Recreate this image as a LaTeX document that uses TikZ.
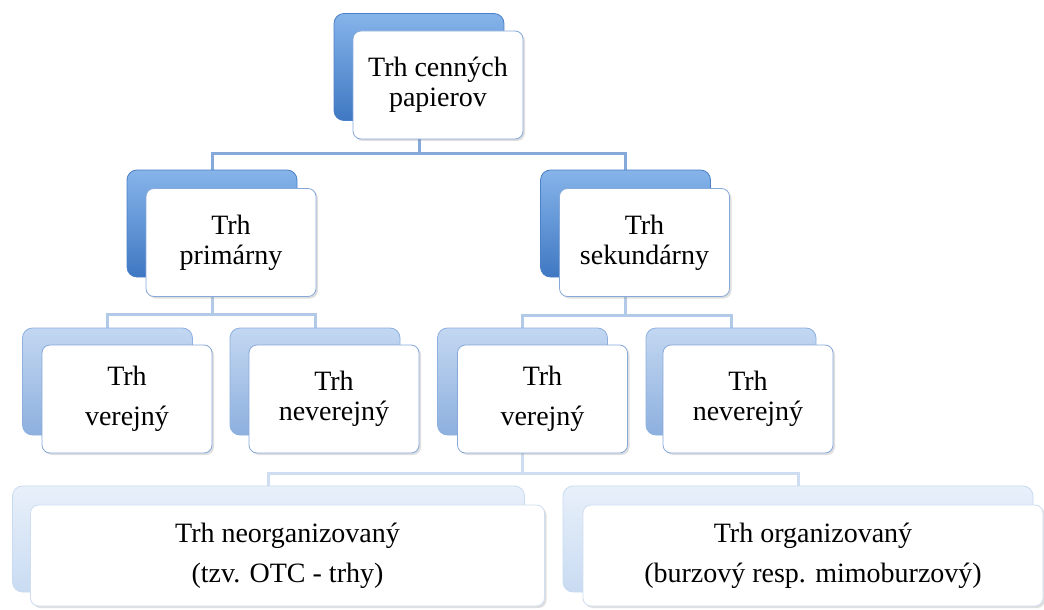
\documentclass[tikz,border=0pt]{standalone}
\usepackage{fontspec}
\setmainfont{Liberation Serif}
\usetikzlibrary{shadows, backgrounds}
\definecolor{mktdark}{HTML}{3F78C2}
\definecolor{mkttop}{HTML}{86B4EA}
\definecolor{mktedge}{HTML}{4A80C8}
\definecolor{mktmid}{HTML}{8DB0DE}
\definecolor{mktmidtop}{HTML}{C3D7F1}
\definecolor{mktpale}{HTML}{C9DBF2}
\definecolor{mktpaletop}{HTML}{E8F0FA}
\definecolor{mktline}{HTML}{86A9D9}
\definecolor{mktlinelight}{HTML}{B3C9E8}
\definecolor{mktlinepale}{HTML}{CFDDF1}

\begin{document}
\begin{tikzpicture}[
      x=0.5pt, y=-0.5pt,
      back/.style={rounded corners=5pt, draw=mktedge, top color=mkttop, bottom color=mktdark, minimum width=85pt, minimum height=53.5pt, inner sep=0pt},
      backmid/.style={back, draw=mktmid, top color=mktmidtop, bottom color=mktmid},
      backpale/.style={back, draw=mktpale, top color=mktpaletop, bottom color=mktpale, minimum width=256pt, minimum height=53pt},
      front/.style={rounded corners=4pt, draw=mktline, fill=white, drop shadow={opacity=0.25, shadow xshift=1pt, shadow yshift=-1pt}, minimum width=85pt, minimum height=54pt, inner sep=0pt, align=center, font=\fontsize{14}{15}\selectfont},
      frontwide/.style={front, draw=mktlinepale, minimum width=257pt, minimum height=50.5pt, font=\fontsize{14}{20}\selectfont},
      link/.style={line width=1.5pt, draw=mktline},
      linklight/.style={line width=1.5pt, draw=mktlinelight},
      linkpale/.style={line width=1.5pt, draw=mktlinepale}
    ]
      \useasboundingbox (0,0) rectangle (1044,610);

      \node[back] (rootb) at (419,67) {};
      \node[front] (root) at (438,85) {Trh cenných\\papierov};

      \node[back] (primb) at (212,223.5) {};
      \node[front] (prim) at (231,242.5) {Trh\\primárny};
      \node[back] (sekb) at (625.5,223.5) {};
      \node[front] (sek) at (644.5,242.5) {Trh\\sekundárny};

      \node[backmid] (pverb) at (107.5,381.5) {};
      \node[front, font=\fontsize{14}{20}\selectfont] (pver) at (127,399) {Trh\\verejný};
      \node[backmid] (pneb) at (315,381.5) {};
      \node[front] (pne) at (334,399) {Trh\\neverejný};
      \node[backmid] (sverb) at (522.5,381.5) {};
      \node[front, font=\fontsize{14}{20}\selectfont] (sver) at (542.5,399) {Trh\\verejný};
      \node[backmid] (sneb) at (731,381.5) {};
      \node[front] (sne) at (748,399) {Trh\\neverejný};

      \node[backpale] (neorgb) at (268.5,539) {};
      \node[frontwide] (neorg) at (287.5,555.5) {Trh neorganizovaný\\(tzv. OTC - trhy)};
      \node[backpale, minimum width=235pt] (orgb) at (798,539) {};
      \node[frontwide, minimum width=230pt] (org) at (813,555.5) {Trh organizovaný\\(burzový resp. mimoburzový)};

      \begin{scope}[on background layer]
        \draw[link] (rootb.south) -- ++(0,33) -| (primb.north);
        \draw[link] (rootb.south) -- ++(0,33) -| (sekb.north);
        \draw[linklight] (primb.south) -- ++(0,37) -| (pverb.north);
        \draw[linklight] (primb.south) -- ++(0,37) -| (pneb.north);
        \draw[linklight] (sekb.south) -- ++(0,38) -| (sverb.north);
        \draw[linklight] (sekb.south) -- ++(0,38) -| (sneb.north);
        \draw[linkpale] (sverb.south) -- ++(0,38) -| (neorgb.north);
        \draw[linkpale] (sverb.south) -- ++(0,38) -| (orgb.north);
      \end{scope}
    \end{tikzpicture}
\end{document}
